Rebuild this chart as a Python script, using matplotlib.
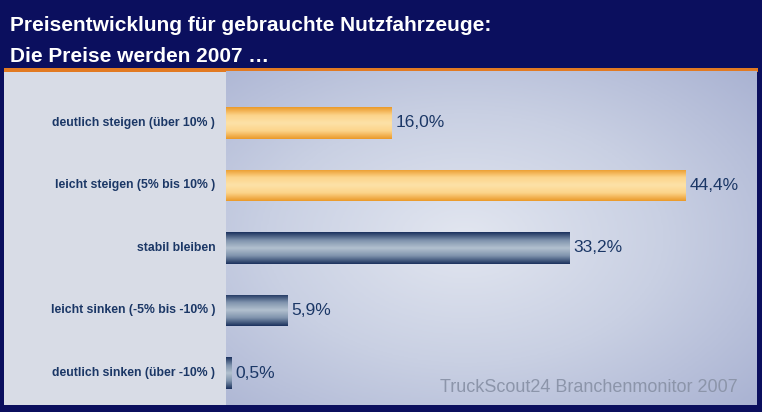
import numpy as np
import matplotlib.pyplot as plt
from matplotlib.colors import LinearSegmentedColormap
from matplotlib.patches import Rectangle

plt.rcParams['font.family'] = ['Liberation Sans', 'DejaVu Sans']

categories = ['deutlich steigen (über 10% )', 'leicht steigen (5% bis 10% )', 'stabil bleiben',
              'leicht sinken (-5% bis -10% )', 'deutlich sinken (über -10% )']
values = [16.0, 44.4, 33.2, 5.9, 0.5]
value_labels = ['16,0%', '44,4%', '33,2%', '5,9%', '0,5%']
bar_kind = ['orange', 'orange', 'navy', 'navy', 'navy']
title_lines = ['Preisentwicklung für gebrauchte Nutzfahrzeuge:', 'Die Preise werden 2007 \u2026']
source = 'TruckScout24 Branchenmonitor 2007'

navy = '#0b0f5e'
text_col = '#1b3766'

fig = plt.figure(figsize=(7.62, 4.12), dpi=100)
fig.patch.set_facecolor(navy)

# left label panel and orange separator
fig.add_artist(Rectangle((4 / 762, 7 / 412), 222 / 762, 334 / 412, transform=fig.transFigure,
                         facecolor='#d8dce6', edgecolor='none', zorder=0))
fig.add_artist(Rectangle((4 / 762, 340 / 412), 754 / 762, 4 / 412, transform=fig.transFigure,
                         facecolor='#e27a22', edgecolor='none', zorder=1))

for i, line in enumerate(title_lines):
    fig.text(10 / 762, 1 - (31 + 31 * i) / 412, line, color='white', fontsize=15,
             fontweight='bold', va='baseline', ha='left')

ax = fig.add_axes([226 / 762, 7 / 412, 531 / 762, 334 / 412])
ax.set_zorder(5)
ax.patch.set_alpha(0)
for s in ax.spines.values():
    s.set_visible(False)
ax.set_xticks([])
ax.set_yticks([])

# radial background
gx, gy = np.meshgrid(np.linspace(0, 1, 300), np.linspace(0, 1, 200))
r = np.sqrt(((gx - 0.45) / 0.75) ** 2 + ((gy - 0.5) / 0.75) ** 2)
bg_cmap = LinearSegmentedColormap.from_list('bg', ['#e2e6f0', '#c9d0e3', '#a9b2d2'])
ax.imshow(r, cmap=bg_cmap, extent=[0, 1, 0, 1], transform=ax.transAxes, aspect='auto',
          vmin=0, vmax=1, zorder=0)

cmaps = {
    'orange': LinearSegmentedColormap.from_list('or', ['#eb9a2a', '#fcd48a', '#fde2a8', '#fcd48a', '#eb9a2a']),
    'navy': LinearSegmentedColormap.from_list('nv', ['#1c325e', '#7e92ac', '#b3c1cf', '#7e92ac', '#1c325e']),
}

y = np.arange(len(categories))
bars = ax.barh(y, values, height=0.5, color='none', edgecolor='none', zorder=2)
grad = np.linspace(0, 1, 64).reshape(-1, 1)
for bar, kind in zip(bars, bar_kind):
    x0, y0 = bar.get_x(), bar.get_y()
    w, h = bar.get_width(), bar.get_height()
    im = ax.imshow(grad, cmap=cmaps[kind], extent=[x0, x0 + w, y0 + h, y0], aspect='auto',
                   zorder=3, interpolation='bilinear')
    im.set_clip_path(bar)

for yi, v, lab in zip(y, values, value_labels):
    ax.text(v + 0.4, yi, lab, color=text_col, fontsize=12.5, va='center', ha='left', zorder=4)

for yi, cat in zip(y, categories):
    ax.text(-1.05, yi, cat, color=text_col, fontsize=8.8, fontweight='bold', va='center', ha='right',
            zorder=4, clip_on=False)

ax.text(0.964, 0.038, source, transform=ax.transAxes, color='#8c95aa', fontsize=13,
        ha='right', va='baseline', zorder=4)

ax.set_xlim(0, 51.3)
ax.set_ylim(4.512, -0.832)

fig.savefig('out.png', dpi=100, facecolor=fig.get_facecolor())
